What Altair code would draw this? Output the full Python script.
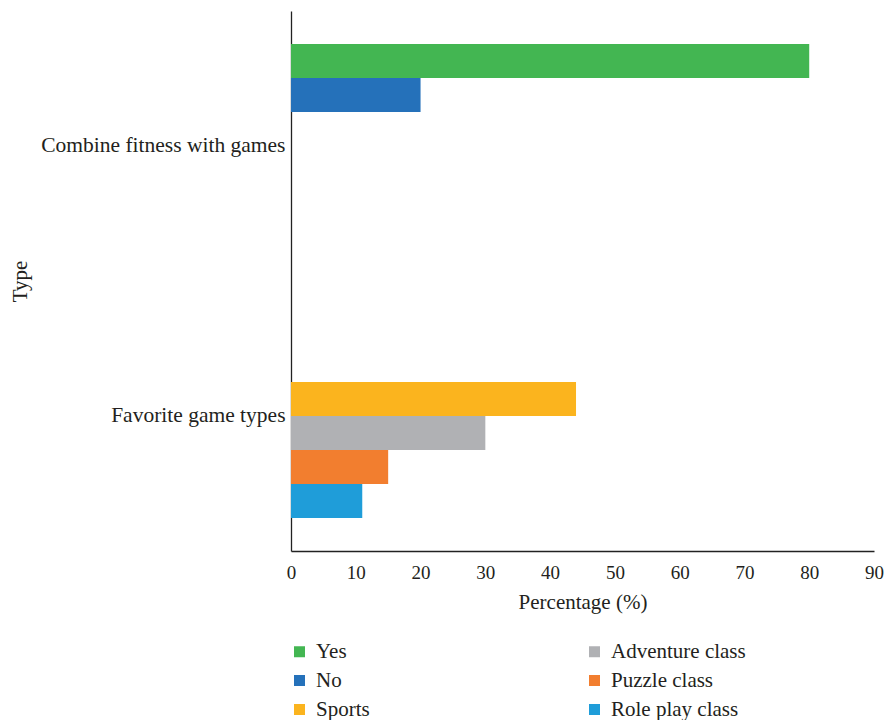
import altair as alt
import pandas as pd

categories = ["Combine fitness with games", "Combine fitness with games",
              "Favorite game types", "Favorite game types",
              "Favorite game types", "Favorite game types"]
series = ["Yes", "No", "Sports", "Adventure class", "Puzzle class", "Role play class"]
values = [80, 20, 44, 30, 15, 11]
colors = ["#43b652", "#2571ba", "#fbb41e", "#b0b1b4", "#f27e2f", "#1f9dd9"]
x_ticks = [0, 10, 20, 30, 40, 50, 60, 70, 80, 90]

df = pd.DataFrame({"Type": categories, "Series": series, "Value": values})

FONT = "Liberation Serif"
TXT = "#231f20"

chart = alt.Chart(df).mark_bar().encode(
    x=alt.X("Value:Q", title="Percentage (%)",
            scale=alt.Scale(domain=[0, 90], nice=False),
            axis=alt.Axis(values=x_ticks, grid=False, ticks=False, labelPadding=12,
                          labelFlush=False,
                          titlePadding=9, domain=True, domainColor="#222",
                          domainWidth=1.3, labelFontSize=19, titleFontSize=21,
                          labelFont=FONT, titleFont=FONT, labelColor=TXT,
                          titleColor=TXT, titleFontWeight="normal")),
    y=alt.Y("Type:N", title="Type", sort=["Combine fitness with games", "Favorite game types"],
            scale=alt.Scale(paddingInner=0.244, paddingOuter=0.122),
            axis=alt.Axis(grid=False, ticks=False, labelPadding=6,
                          titleX=-261, titleY=270,
                          domain=True, domainColor="#222", domainWidth=1.3,
                          labelFontSize=21.5, titleFontSize=21, labelFont=FONT,
                          titleFont=FONT, labelColor=TXT, titleColor=TXT,
                          titleFontWeight="normal", labelLimit=400)),
    yOffset=alt.YOffset("Series:N", sort=series,
                        scale=alt.Scale(paddingInner=0, paddingOuter=0)),
    color=alt.Color("Series:N",
                    scale=alt.Scale(domain=series, range=colors),
                    legend=alt.Legend(title=None, orient="none", legendX=-2, legendY=630,
                                      columns=2, columnPadding=214, rowPadding=7,
                                      symbolType="square", symbolSize=121,
                                      symbolStrokeWidth=0, labelFontSize=21,
                                      labelFont=FONT, labelColor=TXT,
                                      labelOffset=6)),
).properties(
    width=583, height=540,
    autosize=alt.AutoSizeParams(type="none"),
    padding={"left": 283, "top": 3, "right": 10, "bottom": 170},
).configure_view(stroke=None)

chart.save("out.html", embed_options={"renderer": "svg", "actions": False})
